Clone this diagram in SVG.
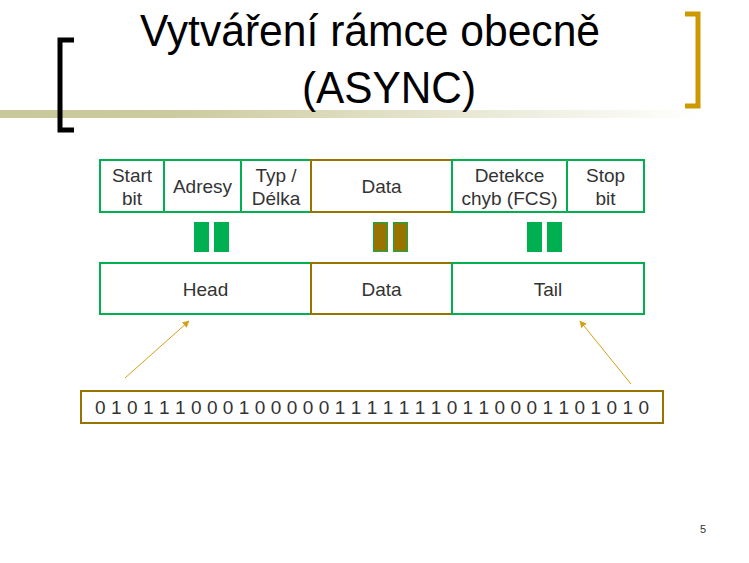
<svg xmlns="http://www.w3.org/2000/svg" width="749" height="563" viewBox="0 0 749 563">
<defs>
<style>
.t{font-family:"Liberation Sans",Arial,sans-serif;fill:#333;font-size:19px;text-anchor:middle}
.title{font-family:"Liberation Sans",Arial,sans-serif;fill:#000;font-size:44px;text-anchor:middle}
.g{fill:none;stroke:#00b050;stroke-width:2}
.b{fill:none;stroke:#997300;stroke-width:2}
.conn{stroke:#d4a017;stroke-width:1;fill:none}
</style>
<linearGradient id="bar" x1="0" y1="0" x2="1" y2="0">
<stop offset="0" stop-color="#c8c89a"/>
<stop offset="0.25" stop-color="#cbcb9e"/>
<stop offset="1" stop-color="#ffffff"/>
</linearGradient>
<marker id="ah" viewBox="0 0 10 10" refX="9" refY="5" markerWidth="7" markerHeight="7" orient="auto-start-reverse" markerUnits="userSpaceOnUse">
<path d="M0,0 L10,5 L0,10 z" fill="#d4a017"/>
</marker>
</defs>
<rect width="749" height="563" fill="#fff"/>
<g id="header">
<rect x="0" y="110" width="700" height="8" fill="url(#bar)"/>
<path d="M74,40 H60 V130 H74" fill="none" stroke="#000" stroke-width="5"/>
<path d="M685,14 H698 V106 H685" fill="none" stroke="#cc9900" stroke-width="5"/>
<text class="title" x="370" y="46" textLength="460" lengthAdjust="spacingAndGlyphs">Vytváření rámce obecně</text>
<text class="title" x="389" y="103" textLength="174" lengthAdjust="spacingAndGlyphs">(ASYNC)</text>
</g>
<g id="n-start"><rect class="g" x="100" y="160" width="64" height="52"/><text class="t" x="132" y="182">Start</text><text class="t" x="132" y="205">bit</text></g>
<g id="n-adresy"><rect class="g" x="164" y="160" width="77" height="52"/><text class="t" x="202.5" y="193">Adresy</text></g>
<g id="n-typ"><rect class="g" x="241" y="160" width="70" height="52"/><text class="t" x="276" y="182">Typ /</text><text class="t" x="276" y="205">Délka</text></g>
<g id="n-data1"><rect class="b" x="311" y="160" width="141" height="52"/><text class="t" x="381.5" y="193">Data</text></g>
<g id="n-fcs"><rect class="g" x="452" y="160" width="115" height="52"/><text class="t" x="509.5" y="182">Detekce</text><text class="t" x="509.5" y="205">chyb (FCS)</text></g>
<g id="n-stop"><rect class="g" x="567" y="160" width="77" height="52"/><text class="t" x="605.5" y="182">Stop</text><text class="t" x="605.5" y="205">bit</text></g>
<g id="eq-head"><rect x="194" y="222" width="15" height="30" fill="#00b050"/><rect x="214" y="222" width="15" height="30" fill="#00b050"/></g>
<g id="eq-data"><rect x="373.5" y="222.5" width="14" height="29" fill="#997300" stroke="#00b050"/><rect x="393.5" y="222.5" width="14" height="29" fill="#997300" stroke="#00b050"/></g>
<g id="eq-tail"><rect x="527" y="222" width="15" height="30" fill="#00b050"/><rect x="547" y="222" width="15" height="30" fill="#00b050"/></g>
<g id="n-head"><rect class="g" x="100" y="263" width="211" height="51"/><text class="t" x="205.5" y="296">Head</text></g>
<g id="n-data2"><rect class="b" x="311" y="263" width="141" height="51"/><text class="t" x="381.5" y="296">Data</text></g>
<g id="n-tail"><rect class="g" x="452" y="263" width="192" height="51"/><text class="t" x="548" y="296">Tail</text></g>
<g id="n-bits"><rect class="b" x="81" y="391" width="582" height="32"/><text class="t" x="372" y="414" textLength="554">0 1 0 1 1 1 0 0 0 1 0 0 0 0 0 1 1 1 1 1 1 1 0 1 1 0 0 0 1 1 0 1 0 1 0</text></g>
<g id="connectors">
<line class="conn" x1="125" y1="378" x2="189" y2="321" marker-end="url(#ah)"/>
<line class="conn" x1="631" y1="384" x2="580" y2="321" marker-end="url(#ah)"/>
</g>
<text x="703" y="533" font-family="Liberation Sans,Arial,sans-serif" font-size="11" fill="#333" text-anchor="middle">5</text>
</svg>
